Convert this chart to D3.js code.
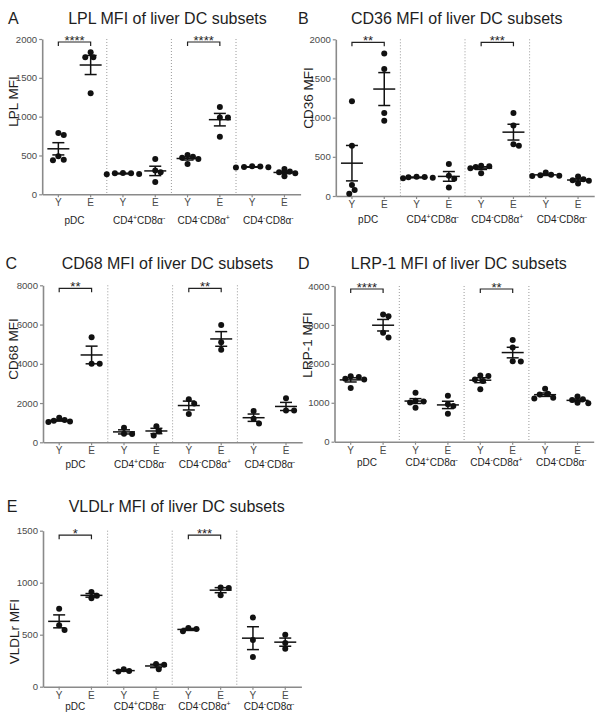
<!DOCTYPE html>
<html><head><meta charset="utf-8">
<script src="https://cdn.jsdelivr.net/npm/d3@7"></script>
<style>
body{margin:0;background:#fff}
svg{display:block}
text{font-family:"Liberation Sans",Arial,Helvetica,sans-serif}
</style>
</head><body>
<svg id="chart" width="600" height="722"></svg>
<script>
// ---------------- DATA ----------------
const ages = ["Y", "E"];
const groups = ["pDC", "CD4⁺CD8α⁻", "CD4⁻CD8α⁺", "CD4⁻CD8α⁻"];
const panelLetters = ["A", "B", "C", "D", "E"];
const titles = ["LPL MFI of liver DC subsets", "CD36 MFI of liver DC subsets",
  "CD68 MFI of liver DC subsets", "LRP-1 MFI of liver DC subsets", "VLDLr MFI of liver DC subsets"];
const yLabels = ["LPL MFI", "CD36 MFI", "CD68 MFI", "LRP-1 MFI", "VLDLr MFI"];

const ticksLPL = [0, 500, 1000, 1500, 2000];
const ticksCD36 = [0, 500, 1000, 1500, 2000];
const ticksCD68 = [0, 2000, 4000, 6000, 8000];
const ticksLRP1 = [0, 1000, 2000, 3000, 4000];
const ticksVLDLr = [0, 500, 1000, 1500];

// order: pDC Y, pDC E, CD4+CD8a- Y, E, CD4-CD8a+ Y, E, CD4-CD8a- Y, E
const lplValues = [
  [790, 765, 490, 440, 445], [1830, 1765, 1765, 1300],
  [275, 270, 262, 258, 272], [455, 305, 285, 160],
  [485, 470, 505, 390, 455], [1125, 990, 990, 740],
  [360, 352, 345, 348, 358], [325, 295, 285, 270, 232]
];
const cd36Values = [
  [1210, 640, 140, 75, 30], [1820, 1620, 1060, 960],
  [245, 240, 232, 225, 243], [410, 260, 220, 110],
  [385, 380, 370, 355, 290], [1060, 900, 640, 660],
  [300, 270, 265, 255, 260], [250, 215, 200, 195, 160]
];
const cd68Values = [
  [1250, 1130, 1100, 1060, 1040], [5350, 4000, 4000],
  [740, 430, 420], [820, 560, 350],
  [2200, 1980, 1440], [5980, 5100, 4720],
  [1600, 1200, 960], [2240, 1620, 1620]
];
const lrp1Values = [
  [1680, 1660, 1620, 1600, 1380], [3270, 3220, 2800, 2680],
  [1260, 1050, 1030, 1010, 870], [1180, 960, 920, 720],
  [1700, 1690, 1600, 1560, 1350], [2610, 2420, 2070, 2060],
  [1360, 1230, 1210, 1130, 1110], [1160, 1090, 1070, 1000, 990]
];
const vldlrValues = [
  [750, 590, 545], [910, 875, 850],
  [168, 150, 146], [218, 212, 168],
  [565, 555, 532], [955, 950, 880],
  [665, 450, 285], [500, 420, 365]
];

// significance: group index and star label
const sigGroups = [[0, 2], [0, 2], [0, 2], [0, 2], [0, 2]];
const sigStars = [["****", "****"], ["**", "***"], ["**", "**"], ["****", "**"], ["*", "***"]];

const allValues = [lplValues, cd36Values, cd68Values, lrp1Values, vldlrValues];
const allTicks = [ticksLPL, ticksCD36, ticksCD68, ticksLRP1, ticksVLDLr];

// ---------------- LAYOUT ----------------
const layouts = [
  {letterX: 8, titleX: 167.5, titleY: 23.5, x0: 42.2, step: 32.3, yTop: 39, yBot: 194.3, labX: 13.3, labY: 101.5, grpDy: 29.5, brDy: 3},
  {letterX: 298, titleX: 456.7, titleY: 23.5, x0: 335.8, step: 32.3, yTop: 39.3, yBot: 196, labX: 307.7, labY: 98, grpDy: 27, brDy: 3},
  {letterX: 5.5, titleX: 167.5, titleY: 269.3, x0: 43, step: 32.4, yTop: 285.3, yBot: 442.3, labX: 13.5, labY: 349, grpDy: 26, brDy: 3},
  {letterX: 298, titleX: 458.8, titleY: 269.3, x0: 334.5, step: 32.4, yTop: 286, yBot: 441.7, labX: 307.5, labY: 345, grpDy: 24.5, brDy: 3},
  {letterX: 6.7, titleX: 176.7, titleY: 511.7, x0: 43, step: 32.3, yTop: 530.7, yBot: 686.7, labX: 14.5, labY: 631.7, grpDy: 23.5, brDy: 4.5}
];

const svg = d3.select("#chart");
const AX = "#8a8a8a", TXT = "#1e1e1e", TICKTXT = "#4a4a4a";
const R = 3.0;

function addSupText(sel, str) {
  // renders ⁺ / ⁻ as superscript tspans
  let shifted = false;
  for (const ch of str) {
    if (ch === "⁺" || ch === "⁻") {
      sel.append("tspan").attr("font-size", 7).attr("dy", shifted ? 0 : -4)
        .text(ch === "⁺" ? "+" : "-");
      shifted = true;
    } else {
      sel.append("tspan").attr("dy", shifted ? 4 : 0).text(ch);
      shifted = false;
    }
  }
}

function swarm(values, y, cx) {
  const sorted = values.slice().sort((a, b) => b - a);
  const placed = [];
  const cands = [0];
  for (let k = 1; k < 14; k++) { cands.push(k * R * 0.9); cands.push(-k * R * 0.9); }
  sorted.forEach(v => {
    const py = y(v);
    for (const off of cands) {
      const px = cx + off;
      if (placed.every(p => Math.hypot(p.x - px, p.y - py) >= 2 * R * 0.92)) {
        placed.push({x: px, y: py, v});
        break;
      }
    }
  });
  return placed;
}

allValues.forEach((vals, pi) => {
  const L = layouts[pi];
  const ticks = allTicks[pi];
  const g = svg.append("g");

  // titles
  g.append("text").attr("x", L.letterX).attr("y", L.titleY).attr("font-size", 16)
    .attr("fill", TXT).text(panelLetters[pi]);
  g.append("text").attr("x", L.titleX).attr("y", L.titleY).attr("font-size", 16)
    .attr("text-anchor", "middle").attr("fill", TXT).text(titles[pi]);

  const cats = d3.range(8);
  const x = d3.scaleBand().domain(cats).range([L.x0, L.x0 + 8 * L.step]);
  const y = d3.scaleLinear().domain([0, d3.max(ticks)]).range([L.yBot, L.yTop]);
  const cx = i => x(i) + x.bandwidth() / 2;

  // separators
  [2, 4, 6].forEach(i => {
    g.append("line").attr("x1", x(i)).attr("x2", x(i))
      .attr("y1", L.yTop).attr("y2", L.yBot)
      .attr("stroke", "#9a9a9a").attr("stroke-width", 1).attr("stroke-dasharray", "1,2");
  });

  // y axis
  const ya = g.append("g").attr("transform", `translate(${L.x0},0)`)
    .call(d3.axisLeft(y).tickValues(ticks).tickFormat(d3.format("d")).tickSize(3).tickSizeOuter(0).tickPadding(2));
  ya.select(".domain").attr("stroke", AX).attr("stroke-width", 1.6);
  ya.selectAll(".tick line").attr("stroke", AX).attr("stroke-width", 1.2);
  ya.selectAll(".tick text").attr("fill", TICKTXT).attr("font-size", 9.6)
    .attr("font-family", '"Liberation Sans",Arial,sans-serif');

  // x axis
  const xa = g.append("g").attr("transform", `translate(0,${L.yBot})`)
    .call(d3.axisBottom(x).tickFormat(i => ages[i % 2]).tickSize(3).tickSizeOuter(0).tickPadding(2));
  xa.select(".domain").attr("stroke", AX).attr("stroke-width", 1.6);
  xa.selectAll(".tick line").attr("stroke", AX).attr("stroke-width", 1.2);
  xa.selectAll(".tick text").attr("fill", TICKTXT).attr("font-size", 10)
    .attr("font-family", '"Liberation Sans",Arial,sans-serif');

  // group labels
  groups.forEach((gname, gi) => {
    const t = g.append("text").attr("x", (cx(2 * gi) + cx(2 * gi + 1)) / 2)
      .attr("y", L.yBot + L.grpDy).attr("text-anchor", "middle")
      .attr("font-size", 10).attr("fill", TXT);
    addSupText(t, gname);
  });

  // y label
  g.append("text").attr("transform", `translate(${L.labX},${L.labY}) rotate(-90)`)
    .attr("text-anchor", "middle").attr("dy", "0.36em").attr("font-size", 13.5)
    .attr("fill", TXT).text(yLabels[pi]);

  // data
  vals.forEach((arr, ci) => {
    const c = cx(ci);
    const m = d3.mean(arr);
    const sem = d3.deviation(arr) / Math.sqrt(arr.length);
    swarm(arr, y, c).forEach(p => {
      g.append("circle").attr("cx", p.x).attr("cy", p.y).attr("r", R).attr("fill", "#111");
    });
    const ln = (x1, y1, x2, y2) => g.append("line").attr("x1", x1).attr("y1", y1)
      .attr("x2", x2).attr("y2", y2).attr("stroke", "#111").attr("stroke-width", 1.5);
    ln(c - 11, y(m), c + 11, y(m));
    ln(c, y(m + sem), c, y(m - sem));
    ln(c - 6, y(m + sem), c + 6, y(m + sem));
    ln(c - 6, y(m - sem), c + 6, y(m - sem));
  });

  // significance brackets
  sigGroups[pi].forEach((gi, k) => {
    const x1 = cx(2 * gi), x2 = cx(2 * gi + 1);
    const by = L.yTop + L.brDy;
    g.append("path").attr("d", `M${x1},${by + 4}V${by}H${x2}V${by + 4}`)
      .attr("fill", "none").attr("stroke", "#222").attr("stroke-width", 1.2);
    g.append("text").attr("x", (x1 + x2) / 2).attr("y", by + 2.5)
      .attr("text-anchor", "middle").attr("font-size", 13).attr("fill", TXT)
      .text(sigStars[pi][k]);
  });
});
</script>
</body></html>
